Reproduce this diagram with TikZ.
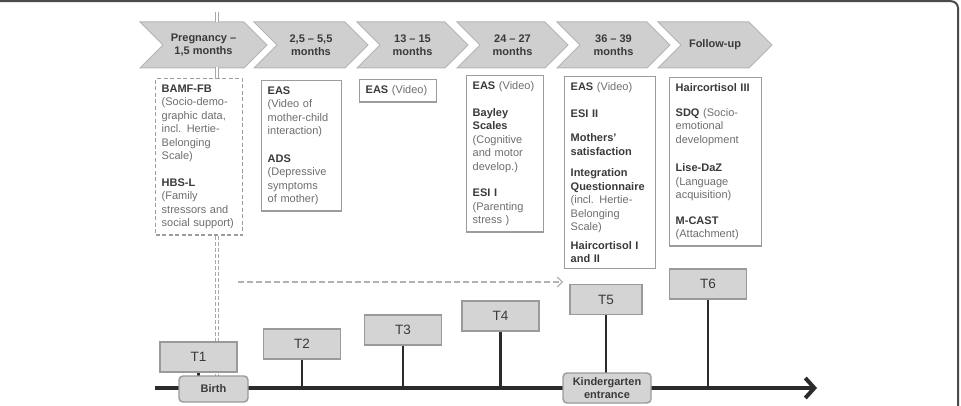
\documentclass[tikz,border=0pt]{standalone}
\usepackage{fontspec}
\setmainfont{Liberation Sans}
\usetikzlibrary{arrows.meta,positioning,calc}
\definecolor{chevgray}{HTML}{CFCFCF}
\definecolor{chevline}{HTML}{B4B4B4}
\definecolor{boxline}{HTML}{9C9C9C}
\definecolor{tfill}{HTML}{D4D4D4}
\definecolor{tline}{HTML}{9A9A9A}
\definecolor{txtdark}{HTML}{3A3A3A}
\definecolor{txtlight}{HTML}{6E6E6E}
\definecolor{axisgray}{HTML}{2B2B2B}
\definecolor{guidegray}{HTML}{A8A8A8}
\definecolor{framegray}{HTML}{4A4A4A}
\tikzset{
  chevron/.style={draw=chevline, fill=chevgray, line width=1pt},
  chevtext/.style={align=center, font=\fontsize{11}{12.5}\selectfont\bfseries, text=txtdark},
  infobox/.style={rectangle, draw=boxline, line width=1.4pt, fill=white, anchor=north west,
                  align=left, inner xsep=6pt, inner ysep=6pt,
                  font=\fontsize{11}{13.5}\selectfont, text=txtlight},
  loosebox/.style={dash pattern=on 4pt off 2.5pt},
  tbox/.style={rectangle, draw=tline, fill=tfill, line width=1.6pt, minimum width=77pt,
               minimum height=30pt, font=\fontsize{13.5}{15}\selectfont, text=txtdark},
  event/.style={rectangle, rounded corners=4pt, draw=tline, fill=tfill, line width=1.4pt,
                align=center, inner sep=3pt, font=\fontsize{11}{13}\selectfont\bfseries, text=txtdark},
  stem/.style={line width=2.2pt, draw=axisgray},
  guide/.style={draw=guidegray, line width=0.9pt, double=white, double distance=1.5pt},
  dasharrow/.style={draw=gray!60, line width=1.2pt, dash pattern=on 6pt off 3pt,
                    -{Straight Barb[length=5pt, width=10pt]}},
  axis/.style={draw=axisgray, line width=4pt, -{Straight Barb[length=9pt, width=20pt]}},
}
\newcommand{\hd}[1]{\textbf{\color{txtdark}#1}}

\begin{document}
\begin{tikzpicture}[x=1pt, y=-1pt]
\useasboundingbox (0,0) rectangle (961,406);
% frame
\draw[framegray, line width=2pt, rounded corners=7pt] (0,1.2) -- (958,1.2) -- (958,406);

% guide line at birth
\coordinate (gtop) at (217,12);
\coordinate (gmid) at (217,80);
\coordinate (gbot) at (217,398);
\draw[guide] (gtop) -- (gmid);

% phases
\foreach \lx/\rx/\txt [count=\i] in {140/267/{Pregnancy –\\1,5 months}, 254/368/{2,5 – 5,5\\months},
    357/468/{13 – 15\\months}, 457/568/{24 – 27\\months}, 557/670/{36 – 39\\months}, 658/772/{Follow-up}}{
  \draw[chevron] (\lx,22) -- ({\rx-23},22) -- (\rx,45) -- ({\rx-23},68) -- (\lx,68) -- ({\lx+23},45) -- cycle;
  \node[chevtext] (ph\i) at ({(\lx+\rx)/2},45) {\txt};
}
\draw[guide] (gtop) -- (217,22.5);
\draw[guide] (217,67.5) -- (gmid);

% instruments
\node[infobox, loosebox, text width=75pt] (bamf) at (155,78)
  {\hd{BAMF-FB}\\(Socio-demo-\\graphic data,\\incl. Hertie-\\Belonging\\Scale)\\[13pt]\hd{HBS-L}\\(Family\\stressors and\\social support)};
\node[infobox, text width=68pt] (eas2) at (261,80)
  {\hd{EAS}\\(Video of\\mother-child\\interaction)\\[14pt]\hd{ADS}\\(Depressive\\symptoms\\of mother)};
\node[infobox, text width=65pt] (eas3) at (359,79) {\hd{EAS} (Video)};
\node[infobox, text width=65pt] (eas4) at (466,75)
  {\hd{EAS} (Video)\\[13pt]\hd{Bayley}\\\hd{Scales}\\(Cognitive\\and motor\\develop.)\\[13pt]\hd{ESI I}\\(Parenting\\stress )};
\node[infobox, text width=79pt] (eas5) at (564,76)
  {\hd{EAS} (Video)\\[13pt]\hd{ESI II}\\[11pt]\hd{Mothers’}\\\hd{satisfaction}\\[8pt]\hd{Integration}\\\hd{Questionnaire}\\(incl. Hertie-\\Belonging\\Scale)\\[5pt]\hd{Haircortisol I}\\\hd{and II}};
\node[infobox, text width=80pt] (hair) at (669,77)
  {\hd{Haircortisol III}\\[11pt]\hd{SDQ} (Socio-\\emotional\\development\\[15pt]\hd{Lise-DaZ}\\(Language\\acquisition)\\[12pt]\hd{M-CAST}\\(Attachment)};

\draw[guide, dash pattern=on 4pt off 2pt] (bamf.south -| gtop) -- (gbot);

% follow-up arrow
\coordinate (da) at (238,282);
\coordinate (db) at (563,282);
\draw[dasharrow] (da) -- (db);

% time axis
\coordinate (ax0) at (155,388);
\coordinate (ax1) at (817,388);
\draw[axis] (ax0) -- (ax1);

% measurement points
\node[tbox] (t1) at (198.5,357) {T1};
\node[tbox] (t2) at (302,344) {T2};
\node[tbox] (t3) at (403,330) {T3};
\node[tbox] (t4) at (500.5,316) {T4};
\node[tbox, minimum width=72pt] (t5) at (606,299.5) {T5};
\node[tbox] (t6) at (708,284) {T6};
\foreach \i in {1,...,6}
  \draw[stem] (t\i.south) -- (t\i.south |- ax0);

\node[event, minimum width=69pt, minimum height=26pt] (birth) at (213.5,389) {Birth};
\node[event, minimum width=88pt, minimum height=30pt] (kiga) at (607,388) {Kindergarten\\entrance};
\end{tikzpicture}
\end{document}
